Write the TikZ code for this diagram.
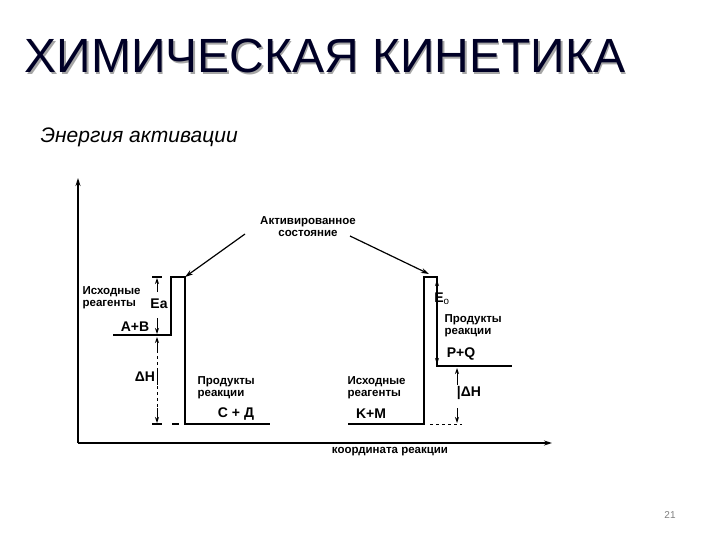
\documentclass[tikz,border=0pt]{standalone}
\usepackage{fontspec}
\setmainfont{Liberation Sans}
\usetikzlibrary{arrows.meta}
\begin{document}
\begin{tikzpicture}[x=1pt,y=-1pt,line width=1.2pt,
  lbl/.style={font=\bfseries\fontsize{11.5}{12}\selectfont,inner sep=0pt,align=left},
  big/.style={font=\bfseries\fontsize{14}{15}\selectfont,inner sep=0pt},
  ar/.style={-{Stealth[length=8pt,width=5pt]}},
  sar/.style={-{Stealth[length=6pt,width=4pt]},line width=0.9pt}]
\useasboundingbox[fill=white] (0,0) rectangle (720,540);
\node[font=\fontsize{48}{48}\selectfont,text=black!35,anchor=west,inner sep=0pt] at (25.5,57.5) {ХИМИЧЕСКАЯ КИНЕТИКА};
\node[font=\fontsize{48}{48}\selectfont,text=blue!15!black,anchor=west,inner sep=0pt] (title) at (24,56) {ХИМИЧЕСКАЯ КИНЕТИКА};
\node[font=\itshape\fontsize{21}{21}\selectfont,anchor=west,inner sep=0pt] (sub) at (40,137) {Энергия активации};
\node[font=\fontsize{10}{10}\selectfont,text=gray,inner sep=0pt] (pg) at (670,515) {21};
% axes
\coordinate (o) at (78,443);
\coordinate (yt) at (78,178);
\coordinate (xt) at (552,443);
\draw[ar] (o) -- (yt);
\draw[ar] (o) -- (xt);
\node[lbl] (xl) at (390,452) {координата реакции};
% left profile
\coordinate (l1) at (113,335); \coordinate (l2) at (171,335);
\coordinate (l3) at (171,277); \coordinate (l4) at (185,277);
\coordinate (l5) at (185,424); \coordinate (l6) at (270,424);
\draw (l1)--(l2)--(l3)--(l4)--(l5)--(l6);
\draw (172,424)--(179,424);
\draw (152,277)--(162,277);
\draw (152,424)--(162,424);
\coordinate (ea1) at (157,292); \coordinate (ea1e) at (157,278);
\coordinate (ea2) at (157,318); \coordinate (ea2e) at (157,334);
\draw[sar] (ea1)--(ea1e);
\draw[sar] (ea2)--(ea2e);
\coordinate (dh1) at (157,350); \coordinate (dh1e) at (157,337);
\coordinate (dh2) at (157,408); \coordinate (dh2e) at (157,423);
\draw[sar] (dh1)--(dh1e);
\draw[sar] (dh2)--(dh2e);
\draw[dashed,line width=0.9pt] (dh1)--(dh2);
\draw[line width=0.9pt] (157,368)--(157,385);
\node[lbl,anchor=west] (ir1) at (82,298) {Исходные\\реагенты};
\node[big] (ea) at (159,304) {Ea};
\node[big] (ab) at (135,327) {A+B};
\node[big] (dhl) at (145,377) {ΔH};
\node[lbl,anchor=west] (pr1) at (197,388) {Продукты\\реакции};
\node[big] (cd) at (236,414) {C + Д};
% right profile
\coordinate (r1) at (348,424); \coordinate (r2) at (424,424);
\coordinate (r3) at (424,277); \coordinate (r4) at (437,277);
\coordinate (r5) at (437,366); \coordinate (r6) at (512,366);
\draw (r1)--(r2)--(r3)--(r4)--(r5)--(r6);
\draw[dashed,line width=0.9pt] (430,424)--(462,424);
\draw[sar] (437,292)--(437,280);
\draw[sar] (437,340)--(437,364);
\coordinate (rh1) at (457,385); \coordinate (rh1e) at (457,368);
\coordinate (rh2) at (457,408); \coordinate (rh2e) at (457,423);
\draw[sar] (rh1)--(rh1e);
\draw[sar] (rh2)--(rh2e);
\node[big] (e0) at (442,299) {E$_{\mathrm{o}}$};
\node[lbl,anchor=west] (pr2) at (444,326) {Продукты\\реакции};
\node[big] (pq) at (461,354) {P+Q};
\node[lbl,anchor=west] (ir2) at (347,388) {Исходные\\реагенты};
\node[big] (km) at (371,414) {K+M};
\node[big] (dhr) at (469,393) {|ΔH};
% activated state
\node[lbl,align=center] (act) at (308,227) {Активированное\\состояние};
\draw[ar] (245,234) -- (l4);
\draw[ar] (350,236) -- (429,274);
\end{tikzpicture}
\end{document}
